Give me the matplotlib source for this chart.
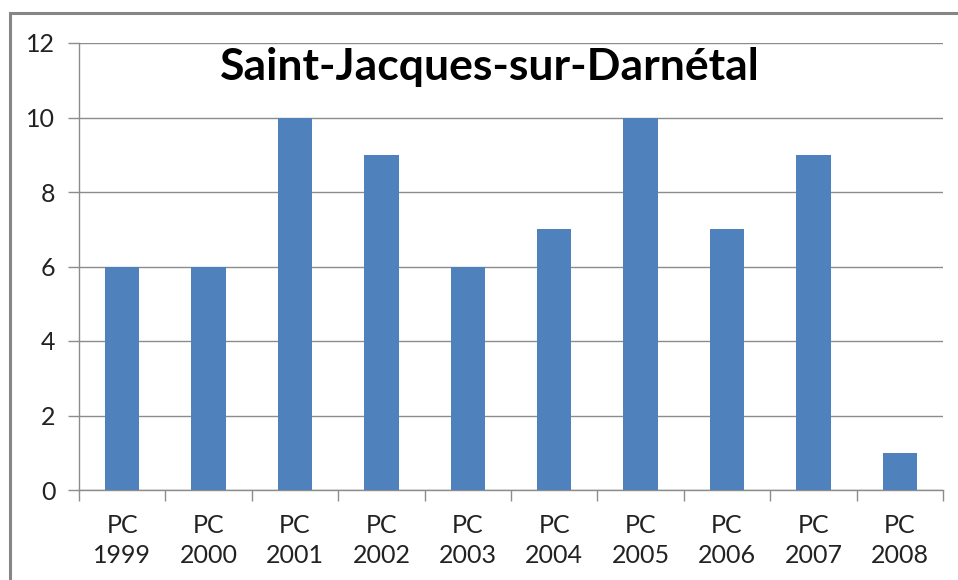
import matplotlib.pyplot as plt
from matplotlib.patches import Rectangle

categories = ["PC\n1999", "PC\n2000", "PC\n2001", "PC\n2002", "PC\n2003",
              "PC\n2004", "PC\n2005", "PC\n2006", "PC\n2007", "PC\n2008"]
values = [6, 6, 10, 9, 6, 7, 10, 7, 9, 1]
y_ticks = [0, 2, 4, 6, 8, 10, 12]

plt.rcParams['font.family'] = ['Lato', 'DejaVu Sans']

fig = plt.figure(figsize=(9.58, 5.8), dpi=100)
W, H = 958, 580

# chart frame (runs off the right and bottom edges)
fig.patches.append(Rectangle((10 / W, -0.1), 1.2, (H - 13) / H + 0.1,
                             transform=fig.transFigure, fill=False,
                             edgecolor='#868686', linewidth=2.2))

ax = fig.add_axes([79 / W, (H - 490) / H, (943 - 79) / W, (490 - 43) / H])

x = list(range(len(values)))
ax.bar(x, values, width=0.4, color='#4F81BD', zorder=3)

ax.set_xlim(-0.5, len(values) - 0.5)
ax.set_ylim(0, 12)
ax.set_yticks(y_ticks)
ax.set_yticklabels([str(v) for v in y_ticks])
ax.yaxis.grid(True, color='#8C8C8C', linewidth=1.0, zorder=0)

ax.set_xticks(x)
ax.set_xticklabels(categories, linespacing=1.4)
ax.set_xticks([i - 0.5 for i in range(len(values) + 1)], minor=True)
ax.tick_params(axis='x', which='major', length=0, pad=17, labelsize=18,
               colors='#222222')
ax.tick_params(axis='x', which='minor', length=8, width=1.0, color='#8C8C8C',
               direction='out')
ax.tick_params(axis='y', length=8, width=1.0, color='#8C8C8C', pad=9,
               labelsize=18, labelcolor='#222222')

for s in ['top', 'right']:
    ax.spines[s].set_visible(False)
for s in ['left', 'bottom']:
    ax.spines[s].set_color('#8C8C8C')
    ax.spines[s].set_linewidth(1.0)

fig.text(490 / W, 1 - 67 / H, "Saint-Jacques-sur-Darnétal", ha='center',
         va='center', fontsize=32, fontweight='bold', color='black')

fig.savefig('out.png', dpi=100)
